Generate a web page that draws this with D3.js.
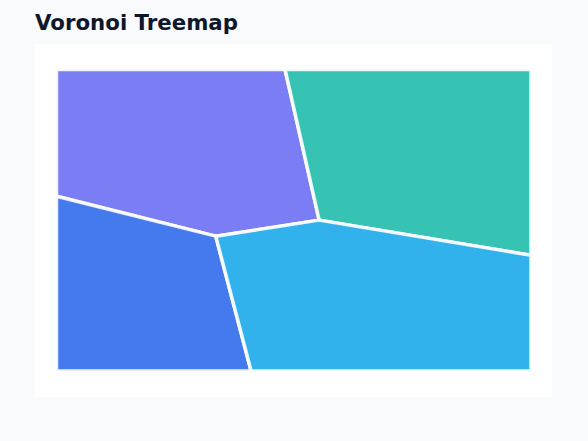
<!DOCTYPE html>
<html lang="en">
<head>
    <meta charset="utf-8">
    <title>Voronoi Treemap</title>
    <style>
        body {
            margin: 0;
            background: #f8fafc;
        }

        svg {
            display: block;
        }

        .title {
            font: bold 21.3px "DejaVu Sans", sans-serif;
            fill: #0f172a;
        }
    </style>
</head>
<body>

<svg width="588" height="441"></svg>

<script src="https://d3js.org/d3.v7.min.js"></script>
<script>

    // data: one value per cell, cell area is proportional to it
    const categories = ["Alpha", "Beta", "Gamma", "Delta"];
    const values = [26.0, 26.7, 18.9, 28.4];
    const colors = ["#6366f1", "#14b8a6", "#2563eb", "#0ea5e9"];

    // layout seeds (normalized 0..1 inside the plot box)
    const seedX = [0.3658, 0.4966, 0.2560, 0.4266];
    const seedY = [0.2333, 0.1867, 0.9217, 0.8513];

    const svg = d3.select("svg");
    const card = {x: 35, y: 44, w: 517, h: 353};
    const box = {x0: 56.5, y0: 69.5, x1: 531, y1: 371};

    svg.append("rect")
        .attr("width", 588)
        .attr("height", 441)
        .attr("fill", "#f8fafc");

    svg.append("text")
        .attr("class", "title")
        .attr("x", 35)
        .attr("y", 29.5)
        .text("Voronoi Treemap");

    svg.append("rect")
        .attr("x", card.x)
        .attr("y", card.y)
        .attr("width", card.w)
        .attr("height", card.h)
        .attr("fill", "#ffffff");

    const x = d3.scaleLinear().domain([0, 1]).range([box.x0, box.x1]);
    const y = d3.scaleLinear().domain([0, 1]).range([box.y0, box.y1]);

    const sites = categories.map((c, i) => [x(seedX[i]), y(seedY[i])]);
    const clipBox = [[box.x0, box.y0], [box.x1, box.y0], [box.x1, box.y1], [box.x0, box.y1]];

    // keep the part of poly where a*px + b*py <= c
    function clipHalf(poly, a, b, c) {
        const out = [];
        for (let k = 0; k < poly.length; k++) {
            const p = poly[k], q = poly[(k + 1) % poly.length];
            const fp = a * p[0] + b * p[1] - c;
            const fq = a * q[0] + b * q[1] - c;
            if (fp <= 0) out.push(p);
            if ((fp < 0 && fq > 0) || (fp > 0 && fq < 0)) {
                const t = fp / (fp - fq);
                out.push([p[0] + t * (q[0] - p[0]), p[1] + t * (q[1] - p[1])]);
            }
        }
        return out;
    }

    // power diagram cells for the given weights
    function powerCells(w) {
        return sites.map((si, i) => {
            let poly = clipBox.slice();
            sites.forEach((sj, j) => {
                if (i === j || poly.length === 0) return;
                const a = 2 * (sj[0] - si[0]);
                const b = 2 * (sj[1] - si[1]);
                const c = (sj[0] * sj[0] + sj[1] * sj[1]) - (si[0] * si[0] + si[1] * si[1]) - w[j] + w[i];
                poly = clipHalf(poly, a, b, c);
            });
            return poly;
        });
    }

    // adjust weights until each cell has the area its value asks for
    const total = (box.x1 - box.x0) * (box.y1 - box.y0);
    const sum = d3.sum(values);
    const target = values.map(v => v / sum * total);
    let weights = values.map(() => 0);
    let cells = powerCells(weights);
    for (let it = 0; it < 4000; it++) {
        const areas = cells.map(p => p.length > 2 ? Math.abs(d3.polygonArea(p)) : 0);
        weights = weights.map((wi, i) => wi + 0.2 * (target[i] - areas[i]));
        cells = powerCells(weights);
    }

    const line = d3.line().curve(d3.curveLinearClosed);

    svg.append("g")
        .selectAll("path")
        .data(cells)
        .enter()
        .append("path")
        .attr("d", d => line(d))
        .attr("fill", (d, i) => colors[i])
        .attr("fill-opacity", 0.85)
        .attr("stroke", "#ffffff")
        .attr("stroke-opacity", 0.9)
        .attr("stroke-width", 3.5)
        .attr("stroke-linejoin", "round")
        .append("title")
        .text((d, i) => categories[i] + ": " + values[i]);

</script>

</body>
</html>
